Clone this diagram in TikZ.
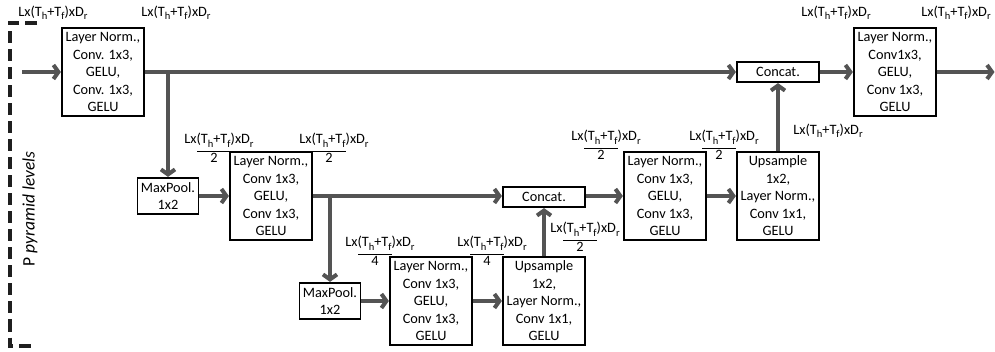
\documentclass[tikz,border=0pt]{standalone}
\usepackage{fontspec}
\setmainfont{Carlito}
\usetikzlibrary{arrows.meta}

\def\sub#1{\raisebox{-3.5pt}{\fontsize{10.5}{11}\selectfont #1}}
\def\dims{Lx(T\sub{h}+T\sub{f})xD\sub{r}}
\def\fdims#1{\dims\\[2pt]\hspace*{-10pt}\rlap{\rule[11pt]{34pt}{1.2pt}}\makebox[34pt]{#1}}

\begin{document}
\begin{tikzpicture}[x=1pt,y=-1pt,shorten >=0.5pt,->,>={Straight Barb[length=5pt,width=14pt]},draw=black!67,line width=4pt]
    \tikzstyle{block}=[draw=black,line width=1.2pt,fill=white,align=center,inner sep=0pt,font={\fontsize{14.3}{17.5}\selectfont}]
    \tikzstyle{conv block}=[block,minimum width=82pt,minimum height=88pt]
    \tikzstyle{pool block}=[block,minimum width=61pt,minimum height=36pt]
    \tikzstyle{cat block}=[block,minimum width=82pt,minimum height=20pt]
    \tikzstyle{annot}=[align=center,inner sep=0pt,font={\fontsize{14.3}{17}\selectfont}]

    \useasboundingbox (0,0) rectangle (995,352);

    % P levels bracket
    \draw[-,black!88,dash pattern=on 12pt off 6pt] (37,23) -- (9.5,23) -- (9.5,346) -- (37,346);
    \node[rotate=90,inner sep=0pt,font={\fontsize{17.5}{20}\selectfont}] (lv) at (30,209) {P \textit{pyramid levels}};

    % level 1
    \node[conv block] (B-1) at (103,72) {Layer Norm.,\\Conv. 1x3,\\GELU,\\Conv. 1x3,\\GELU};
    \node[cat block] (C-1) at (778,72) {Concat.};
    \node[conv block] (B-5) at (895,72) {Layer Norm.,\\Conv1x3,\\GELU,\\Conv 1x3,\\GELU};

    % level 2
    \node[pool block] (P-1) at (168,196) {MaxPool.\\1x2};
    \node[conv block] (B-2) at (271,196) {Layer Norm.,\\Conv 1x3,\\GELU,\\Conv 1x3,\\GELU};
    \node[cat block] (C-2) at (544,197) {Concat.};
    \node[conv block] (B-4) at (665,196) {Layer Norm.,\\Conv 1x3,\\GELU,\\Conv 1x3,\\GELU};
    \node[conv block] (U-2) at (778,196) {Upsample\\1x2,\\Layer Norm.,\\Conv 1x1,\\GELU};

    % level 3
    \node[pool block] (P-2) at (330,301) {MaxPool.\\1x2};
    \node[conv block] (B-3) at (431,301) {Layer Norm.,\\Conv 1x3,\\GELU,\\Conv 1x3,\\GELU};
    \node[conv block] (U-1) at (544,301) {Upsample\\1x2,\\Layer Norm.,\\Conv 1x1,\\GELU};

    \coordinate (in) at (22,72);
    \coordinate (out) at (995,72);

    % Connect the blocks
    \draw (in) -- (B-1);
    \draw (B-1) -- (C-1);
    \draw (C-1) -- (B-5);
    \draw (B-5) -- (out);
    \draw (P-1 |- B-1) -- (P-1);
    \draw (P-1) -- (B-2);
    \draw (B-2) -- (C-2.west |- B-2);
    \draw (P-2 |- B-2) -- (P-2);
    \draw (P-2) -- (B-3);
    \draw (B-3) -- (U-1);
    \draw (U-1) -- (C-2);
    \draw (C-2.east |- B-4) -- (B-4);
    \draw (B-4) -- (U-2);
    \draw (U-2) -- (C-1);

    % Annotate the sizes
    \node[annot] (L-1) at (53,13) {\dims};
    \node[annot] (L-2) at (176,13) {\dims};
    \node[annot] (L-3) at (836,13) {\dims};
    \node[annot] (L-4) at (956,13) {\dims};
    \node[annot] (L-5) at (828,131) {\dims};
    \node[annot] (F-1) at (219,148) {\fdims{2}};
    \node[annot] (F-2) at (334,148) {\fdims{2}};
    \node[annot] (F-3) at (380,251) {\fdims{4}};
    \node[annot] (F-4) at (492,251) {\fdims{4}};
    \node[annot] (F-5) at (585,237) {\fdims{2}};
    \node[annot] (F-6) at (606,145) {\fdims{2}};
    \node[annot] (F-7) at (724,145) {\fdims{2}};

\end{tikzpicture}
\end{document}
